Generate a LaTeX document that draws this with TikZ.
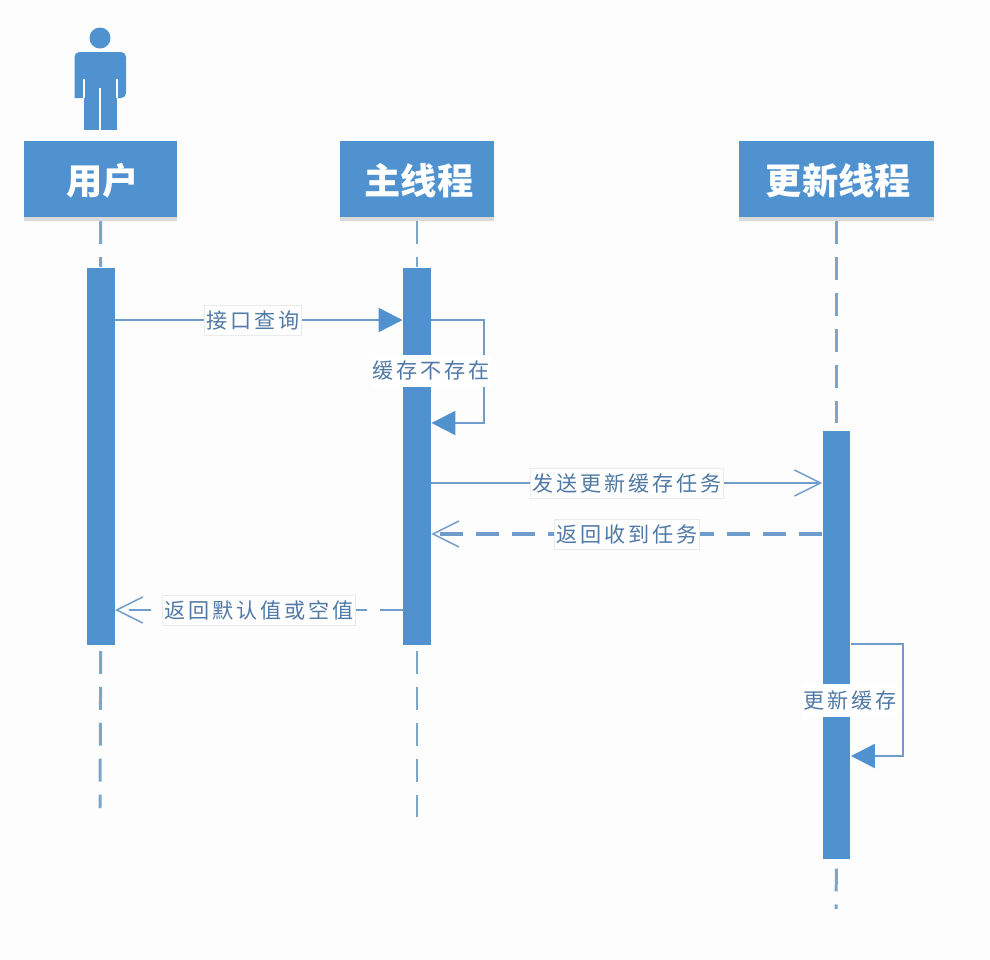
\documentclass[tikz,border=0pt]{standalone}
\usepackage{fontspec}
\setmainfont{Liberation Sans}
\newfontfamily\cjk{Noto Sans CJK SC}
\newfontfamily\cjklabel[LetterSpace=14]{Noto Sans CJK SC}
\usetikzlibrary{arrows.meta,shadows}

\definecolor{seqblue}{HTML}{5092D0}
\definecolor{lifeblue}{HTML}{7BA6C8}
\definecolor{msgblue}{HTML}{6F9CCB}
\definecolor{labeltext}{HTML}{5079A6}
\definecolor{paper}{HTML}{FDFDFE}

\tikzset{
    actorbox/.style={fill=seqblue,text=white,minimum height=0.76cm,inner sep=0pt,
        text height=9.2pt,text depth=0.5pt,execute at begin node=\hspace*{1.1pt},
        font=\cjk\fontsize{10.3}{12}\selectfont\bfseries,
        drop shadow={shadow xshift=0pt,shadow yshift=-1pt,opacity=0.25,fill=black!55}},
    bar/.style={fill=seqblue,minimum width=0.275cm,inner sep=0pt},
    lifeline/.style={lifeblue,line width=0.85pt,dash pattern=on 6.5pt off 3.7pt},
    calltip/.style={-{Triangle[length=6.8pt,width=6.8pt,color=seqblue,fill=seqblue]}},
    sendmsg/.style={msgblue,line width=0.75pt,-{Straight Barb[length=7.4pt,width=7.4pt,line width=0.4pt]}},
    backmsg/.style={msgblue,line width=0.95pt,dash pattern=on 6.5pt off 3.7pt,
        -{Straight Barb[length=7.4pt,width=7.4pt,line width=0.4pt]}},
    msglabel/.style={solid,fill=white,draw=black!8,line width=0.25pt,text=labeltext,
        inner xsep=0.5pt,inner ysep=0pt,minimum height=0.30cm,
        font=\cjklabel\fontsize{6}{7}\selectfont},
}

\begin{document}
\begin{tikzpicture}[x=0.01cm,y=-0.01cm]

    % 全体の範囲
    \fill[paper] (0,0) rectangle (990,960);
    \useasboundingbox (0,0) rectangle (990,960);

    % 参与者
    \node[actorbox,minimum width=1.53cm] (user) at (100.5,179) {用户};
    \node[actorbox,minimum width=1.54cm] (main) at (417,179) {主线程};
    \node[actorbox,minimum width=1.95cm] (update) at (836.5,179) {更新线程};

    % 人形
    \fill[seqblue] (100,38) circle [radius=10.5];
    \fill[seqblue,rounded corners=1.4pt] (74.5,98) -- (74.5,52) -- (126,52) -- (126,98) -- (117,98);
    \fill[seqblue] (84,70) rectangle (117,130);
    \draw[paper,line width=0.35pt] (84,79) -- (84,98);
    \draw[paper,line width=0.35pt] (117,79) -- (117,98);
    \draw[paper,line width=0.35pt] (100,88) -- (100,130);

    % 激活条
    \node[bar,minimum height=3.77cm] (userbar) at (100.75,456.5) {};
    \node[bar,minimum height=3.77cm] (mainbar) at (417,456.5) {};
    \node[bar,minimum height=4.28cm] (updatebar) at (836.5,645) {};

    % 生命线の端点
    \coordinate (userend) at (100,808);
    \coordinate (mainend) at (417,820);
    \coordinate (updateend) at (836,909);

    % 生命线
    \draw[lifeline,shorten <=1pt] (user.south) -- (userbar.north);
    \draw[lifeline,shorten <=1pt] (main.south) -- (mainbar.north);
    \draw[lifeline,shorten <=1pt] (update.south) -- (updatebar.north);
    \draw[lifeline,shorten <=1.5pt] (userbar.south) -- (userend);
    \draw[lifeline,shorten <=1.5pt] (mainbar.south) -- (mainend);
    \draw[lifeline,shorten <=2.5pt] (updatebar.south) -- (updateend);

    % 消息の高さ
    \coordinate (query) at (0,320);
    \coordinate (task) at (0,483);
    \coordinate (ack) at (0,534);
    \coordinate (reply) at (0,610);

    % 消息
    \draw[msgblue,line width=0.65pt,calltip] (userbar.east |- query) -- (mainbar.west |- query)
        node[msglabel,pos=0.48] (querylabel) {接口查询};
    \draw[sendmsg] (mainbar.east |- task) -- (updatebar.west |- task)
        node[msglabel,pos=0.50] (tasklabel) {发送更新缓存任务};
    \draw[backmsg] (updatebar.west |- ack) -- (mainbar.east |- ack)
        node[msglabel,pos=0.50] (acklabel) {返回收到任务};
    \draw[backmsg,line width=0.6pt] (mainbar.west |- reply) -- (userbar.east |- reply)
        node[msglabel,pos=0.50] (replylabel) {返回默认值或空值};

    % 自身への消息
    \coordinate (missa) at (484,320);
    \coordinate (missb) at (484,423);
    \coordinate (refresha) at (903,644);
    \coordinate (refreshb) at (903,756);
    \draw[msgblue,line width=0.65pt,calltip] (mainbar.east |- missa) -- (missa) -- (missb) -- (mainbar.east |- missb);
    \draw[msgblue,line width=0.65pt,calltip] (updatebar.east |- refresha) -- (refresha) -- (refreshb) -- (updatebar.east |- refreshb);
    \node[msglabel,draw=none,minimum height=0.32cm] (misslabel) at (431,371) {缓存不存在};
    \node[msglabel,draw=none,minimum height=0.33cm] (refreshlabel) at (850,700.5) {更新缓存};

\end{tikzpicture}
\end{document}
